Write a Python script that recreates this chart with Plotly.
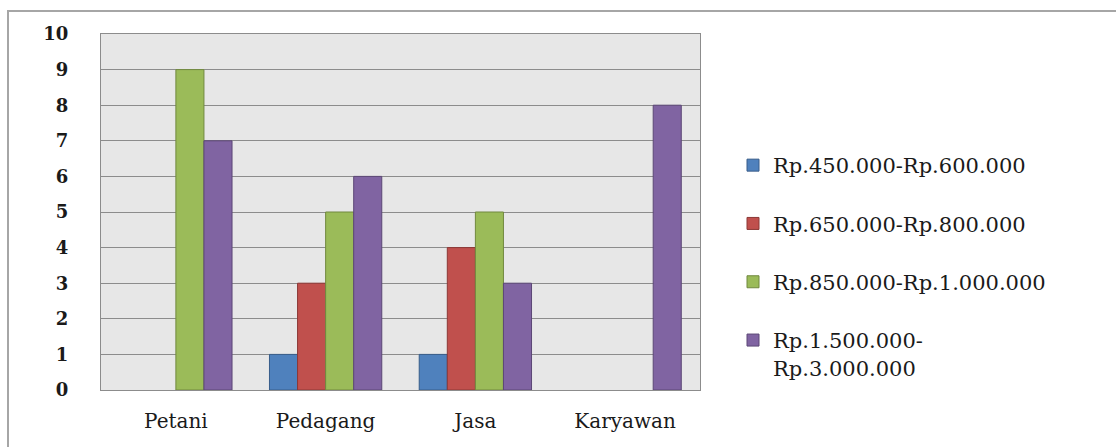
import plotly.graph_objects as go

categories = ["Petani", "Pedagang", "Jasa", "Karyawan"]
series_names = ["Rp.450.000-Rp.600.000", "Rp.650.000-Rp.800.000",
                "Rp.850.000-Rp.1.000.000", "Rp.1.500.000-<br>Rp.3.000.000"]
s1 = [0, 1, 1, 0]
s2 = [0, 3, 4, 0]
s3 = [9, 5, 5, 0]
s4 = [7, 6, 3, 8]
y_ticks = list(range(0, 11))

fills = ["#4f81bd", "#c0504d", "#9bbb59", "#8064a2"]
lines = ["#385d8a", "#8c3836", "#71893f", "#5c4776"]

fig = go.Figure()
for i, (name, vals) in enumerate(zip(series_names, [s1, s2, s3, s4])):
    fig.add_trace(go.Bar(
        x=categories, y=[v if v > 0 else None for v in vals], name=name,
        legendgroup=f"g{i}",
        marker=dict(color=fills[i], line=dict(color=lines[i], width=1)),
    ))

L, R, T, B = 101, 416, 34, 57
W, H = 1116, 447
pw, ph = W - L - R, H - T - B

def px_x(p):
    return (p - L) / pw

def px_y(p):
    return (H - B - p) / ph

fig.update_layout(
    width=W, height=H,
    margin=dict(l=L, r=R, t=T, b=B),
    paper_bgcolor="white",
    plot_bgcolor="#e7e7e7",
    barmode="group",
    bargap=0.25,
    bargroupgap=0,
    font=dict(family="DejaVu Serif", color="#1a1a1a"),
    legend=dict(
        x=px_x(733), y=px_y(145), xanchor="left", yanchor="top",
        font=dict(family="DejaVu Serif", size=21, color="#1a1a1a"),
        tracegroupgap=28, valign="top",
        bgcolor="rgba(0,0,0,0)",
    ),
    xaxis=dict(
        showline=True, linecolor="#8c8c8c", linewidth=1, mirror=True,
        tickfont=dict(family="DejaVu Serif", size=20, color="#1a1a1a"),
        ticks="", ticklabelstandoff=13,
    ),
    yaxis=dict(
        range=[0, 10], tickvals=y_ticks, showgrid=True,
        gridcolor="#8c8c8c", gridwidth=1,
        showline=True, linecolor="#8c8c8c", linewidth=1, mirror=True,
        zeroline=False,
        tickfont=dict(family="DejaVu Serif", size=18, color="#1a1a1a", weight="bold"),
        ticks="", ticklabelstandoff=28,
    ),
    shapes=[dict(
        type="rect", xref="paper", yref="paper",
        x0=px_x(8), x1=px_x(1160), y0=px_y(470), y1=px_y(11),
        line=dict(color="#a6a6a6", width=2), fillcolor="rgba(0,0,0,0)", layer="below",
    )],
)

fig.write_html("out.html")
